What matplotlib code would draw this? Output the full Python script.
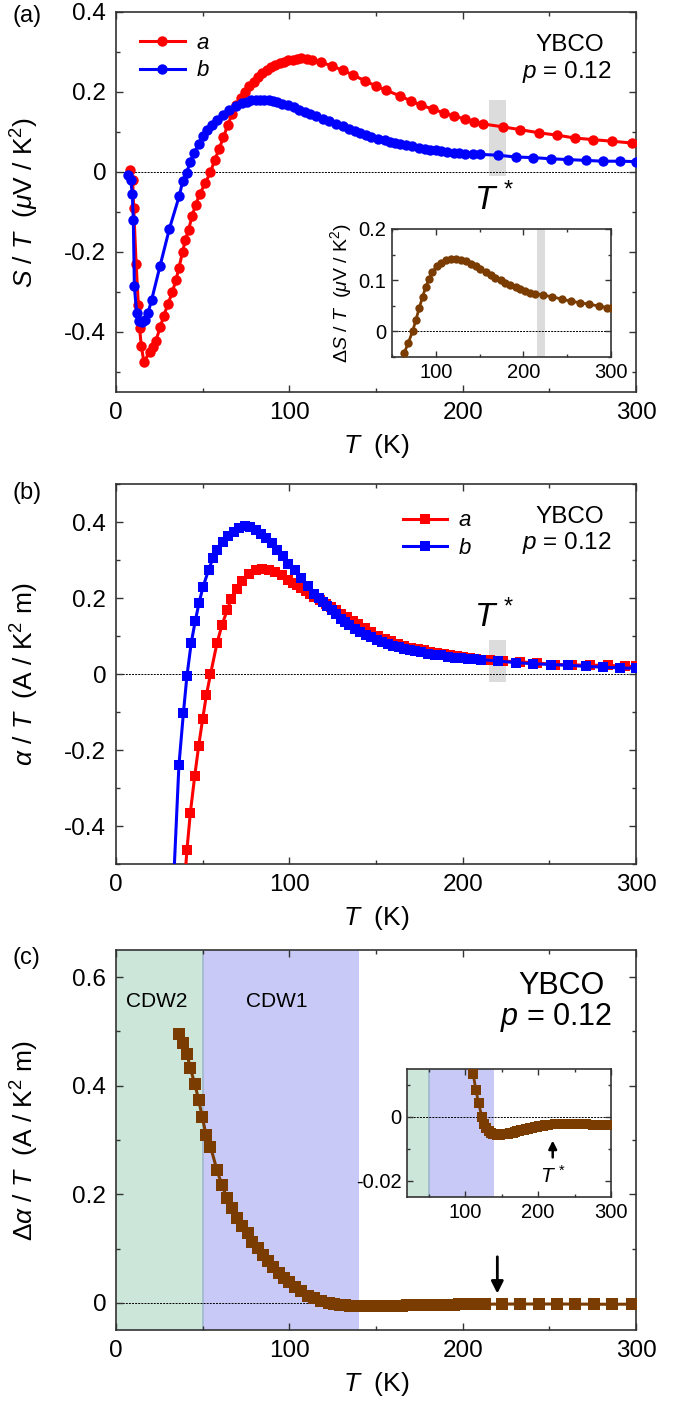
import numpy as np
import matplotlib.pyplot as plt
from matplotlib.ticker import MultipleLocator, FuncFormatter

plt.rcParams['font.family'] = ['Liberation Sans', 'DejaVu Sans']
plt.rcParams['mathtext.fontset'] = 'custom'
plt.rcParams['mathtext.rm'] = 'Liberation Sans'
plt.rcParams['mathtext.it'] = 'Liberation Sans:italic'
plt.rcParams['mathtext.bf'] = 'Liberation Sans:bold'
plt.rcParams['axes.unicode_minus'] = False

RED = '#ff0000'
BLUE = '#0000ff'
BROWN = '#7a3c00'
GREEN = '#cce6da'
LAV = '#c9c9f7'
BAND = '#dcdcdc'

# ---- panel (a): S/T ----
T_Sa = [8.1, 9.6, 10.2, 11.6, 12.9, 13.6, 14.6, 16.1, 19.4, 21.2, 23.0, 25.5, 27.5, 30.0, 32.5,
        34.6, 36.3, 38.4, 40.0, 41.9, 43.9, 45.9, 48.4, 51.5, 54.5, 57.0, 59.5, 62.0, 64.5, 67.0,
        69.5, 72.0, 74.5, 77.0, 79.5, 82.0, 84.5, 87.0, 89.5, 92.0, 94.5, 97.0, 99.5, 102.0, 104.5,
        107.0, 110.0, 113.0, 118.0, 124.6, 131.0, 137.0, 143.6, 150.0, 156.0, 164.0, 170.0, 176.0,
        183.0, 189.0, 195.0, 201.6, 206.7, 212.0, 223.0, 233.0, 244.0, 254.6, 264.7, 275.0, 286.0, 297.5]
S_a = [0.006, -0.021, -0.089, -0.229, -0.333, -0.39, -0.435, -0.475, -0.45, -0.437, -0.422, -0.388,
       -0.36, -0.33, -0.30, -0.27, -0.24, -0.20, -0.17, -0.144, -0.11, -0.083, -0.054, -0.028, 0.0,
       0.03, 0.058, 0.087, 0.118, 0.145, 0.167, 0.185, 0.2, 0.214, 0.226, 0.238, 0.248, 0.256, 0.263,
       0.268, 0.272, 0.276, 0.279, 0.281, 0.283, 0.284, 0.283, 0.281, 0.275, 0.265, 0.254, 0.242,
       0.228, 0.215, 0.204, 0.19, 0.178, 0.167, 0.157, 0.148, 0.14, 0.132, 0.126, 0.12, 0.113, 0.106,
       0.098, 0.092, 0.085, 0.081, 0.077, 0.0725]

T_Sb = [7.1, 8.5, 9.4, 10.0, 10.6, 11.9, 13.5, 15.2, 16.7, 18.5, 20.6, 25.4, 30.8, 36.5, 38.5, 40.8,
        42.7, 45.2, 47.7, 50.2, 52.7, 55.3, 58.3, 61.6, 65.3, 69.1, 72.9, 75.5, 78.0, 80.5, 83.0, 85.5,
        88.0, 90.5, 93.0, 96.0, 99.4, 102.5, 105.7, 109.0, 112.0, 115.5, 119.6, 123.0, 127.0, 131.0,
        134.7, 138.0, 141.0, 144.0, 147.3, 151.0, 155.0, 158.0, 161.0, 164.0, 167.5, 171.0, 175.0,
        178.0, 181.4, 184.5, 187.7, 191.0, 195.0, 198.0, 201.6, 206.0, 210.0, 220.5, 230.6, 240.7,
        251.0, 261.0, 271.0, 281.0, 291.0, 300.0]
S_b = [-0.008, -0.021, -0.054, -0.121, -0.286, -0.352, -0.372, -0.375, -0.37, -0.352, -0.319, -0.235,
       -0.142, -0.06, -0.0225, -0.002, 0.025, 0.0475, 0.071, 0.089, 0.104, 0.117, 0.129, 0.142, 0.154,
       0.164, 0.1725, 0.176, 0.179, 0.18, 0.181, 0.18, 0.179, 0.177, 0.175, 0.171, 0.167, 0.162, 0.156,
       0.151, 0.146, 0.14, 0.133, 0.127, 0.121, 0.114, 0.108, 0.103, 0.0975, 0.092, 0.0875, 0.083,
       0.079, 0.0755, 0.0725, 0.07, 0.067, 0.064, 0.061, 0.0585, 0.056, 0.054, 0.0525, 0.05, 0.048,
       0.047, 0.046, 0.045, 0.044, 0.042, 0.0375, 0.036, 0.033, 0.031, 0.029, 0.027, 0.027, 0.026]

# inset (a): delta S/T
T_dS = [64.0, 68.5, 73.5, 77.3, 81.0, 84.9, 88.6, 92.4, 96.2, 101.0, 105.7, 111.4, 117.0, 122.7, 128.4,
        134.0, 139.8, 145.5, 151.0, 157.0, 162.5, 168.0, 174.0, 179.5, 185.0, 191.0, 196.6, 202.0,
        208.0, 213.6, 222.4, 232.6, 244.0, 254.0, 264.8, 275.0, 286.0, 296.0, 300.0]
dS = [-0.042, -0.0225, 0.0, 0.0226, 0.045, 0.0677, 0.087, 0.103, 0.116, 0.127, 0.134, 0.139, 0.142,
      0.142, 0.14, 0.137, 0.1325, 0.127, 0.122, 0.116, 0.111, 0.105, 0.1, 0.095, 0.09, 0.086, 0.082,
      0.079, 0.0755, 0.074, 0.071, 0.0677, 0.063, 0.059, 0.056, 0.053, 0.0497, 0.0464, 0.045]

# ---- panel (b): alpha/T ----
T_Aa = [38.5, 40.9, 42.9, 45.4, 47.7, 50.0, 52.2, 54.5, 58.3, 61.1, 64.1, 66.6, 69.9, 72.9, 76.7, 80.5,
        84.3, 88.0, 91.8, 95.6, 99.4, 102.0, 104.5, 107.0, 109.5, 112.0, 114.5, 117.5, 120.9, 124.0,
        127.0, 130.0, 133.5, 136.5, 139.8, 143.5, 147.3, 151.0, 155.0, 158.5, 162.5, 166.0, 170.0,
        174.0, 177.6, 181.0, 185.0, 189.0, 192.8, 196.5, 200.3, 204.0, 207.9, 215.5, 223.0, 233.0,
        243.0, 253.0, 263.0, 273.5, 283.6, 293.7, 300.0]
A_a = [-0.62, -0.464, -0.365, -0.269, -0.189, -0.118, -0.054, -0.001, 0.082, 0.128, 0.168, 0.198,
       0.225, 0.246, 0.264, 0.273, 0.277, 0.275, 0.268, 0.26, 0.248, 0.24, 0.233, 0.226, 0.218, 0.21,
       0.203, 0.194, 0.185, 0.176, 0.168, 0.159, 0.15, 0.14, 0.131, 0.12, 0.11, 0.101, 0.093, 0.086,
       0.08, 0.074, 0.069, 0.065, 0.062, 0.058, 0.055, 0.052, 0.049, 0.047, 0.045, 0.042, 0.04,
       0.038, 0.034, 0.032, 0.029, 0.025, 0.024, 0.023, 0.023, 0.02, 0.02]

T_Ab = [32.5, 36.3, 38.9, 40.9, 43.4, 45.7, 47.9, 50.2, 53.5, 56.0, 58.5, 61.6, 64.6, 67.9, 71.2, 74.2,
        77.2, 80.5, 83.8, 86.8, 89.8, 93.1, 96.4, 99.4, 103.2, 107.0, 110.8, 114.5, 117.0, 119.6, 122.0,
        124.6, 127.0, 129.7, 132.0, 134.7, 138.0, 141.0, 144.0, 147.3, 150.5, 153.7, 157.0, 160.0,
        163.0, 166.3, 169.5, 172.6, 176.0, 180.0, 184.0, 187.7, 191.5, 195.3, 199.0, 203.0, 206.5,
        210.4, 220.5, 230.6, 240.7, 250.8, 261.0, 271.0, 281.0, 291.0, 300.0]
A_b = [-0.62, -0.24, -0.102, -0.006, 0.082, 0.139, 0.187, 0.229, 0.275, 0.306, 0.327, 0.347, 0.363,
       0.375, 0.384, 0.389, 0.387, 0.38, 0.369, 0.358, 0.345, 0.327, 0.31, 0.29, 0.273, 0.2535, 0.231,
       0.211, 0.2, 0.189, 0.178, 0.168, 0.157, 0.146, 0.137, 0.128, 0.119, 0.11, 0.103, 0.097, 0.09,
       0.084, 0.079, 0.075, 0.071, 0.067, 0.063, 0.06, 0.057, 0.0535, 0.051, 0.049, 0.046, 0.043,
       0.041, 0.04, 0.039, 0.038, 0.034, 0.03, 0.027, 0.025, 0.023, 0.02, 0.018, 0.016, 0.015]

# ---- panel (c): delta alpha/T ----
T_dA = [36.3, 38.9, 40.9, 42.9, 45.4, 47.7, 49.7, 52.0, 54.5, 58.3, 61.1, 64.1, 66.9, 69.9, 72.9, 75.9,
        78.7, 81.8, 84.8, 87.8, 90.8, 93.9, 96.9, 99.9, 103.2, 107.0, 110.8, 114.5, 118.3, 122.8, 126.0,
        129.0, 132.0, 135.0, 138.0, 141.0, 144.0, 147.0, 150.0, 153.0, 156.0, 159.0, 162.0, 165.0,
        168.0, 171.0, 174.0, 177.0, 180.0, 183.0, 186.0, 189.0, 192.0, 195.0, 198.0, 201.0, 204.0,
        207.0, 210.0, 213.0, 222.5, 233.0, 244.0, 254.5, 265.0, 275.5, 286.0, 297.5]
dA = [0.496, 0.478, 0.459, 0.432, 0.404, 0.374, 0.343, 0.309, 0.288, 0.244, 0.217, 0.193, 0.175,
      0.156, 0.141, 0.129, 0.113, 0.101, 0.089, 0.077, 0.066, 0.055, 0.046, 0.038, 0.03, 0.022,
      0.0135, 0.0085, 0.0043, 0.0, -0.0022, -0.0035, -0.0044, -0.0049, -0.0053, -0.0054, -0.0055,
      -0.0055, -0.0054, -0.0054, -0.0053, -0.0052, -0.0051, -0.0049, -0.0047, -0.0045, -0.0044,
      -0.0042, -0.004, -0.0038, -0.0036, -0.0035, -0.0033, -0.0032, -0.003, -0.0029, -0.0028,
      -0.0027, -0.0026, -0.0025, -0.0022, -0.0021, -0.0021, -0.0021, -0.0023, -0.0025, -0.0026,
      -0.0024]

W, H = 684, 1407


def box(x0, y0, x1, y1):
    return [x0 / W, 1 - y1 / H, (x1 - x0) / W, (y1 - y0) / H]


def fmt(v, pos):
    return '%g' % (round(v, 6) + 0)


def style(ax, xmaj, xmin, ymaj, ymin, fs, ml=5, ms=3, pad=7):
    ax.xaxis.set_major_locator(MultipleLocator(xmaj))
    ax.xaxis.set_minor_locator(MultipleLocator(xmin))
    ax.yaxis.set_major_locator(MultipleLocator(ymaj))
    ax.yaxis.set_minor_locator(MultipleLocator(ymin))
    ax.xaxis.set_major_formatter(FuncFormatter(fmt))
    ax.yaxis.set_major_formatter(FuncFormatter(fmt))
    ax.tick_params(which='both', direction='in', top=True, right=True, labelsize=fs,
                   color='#333333', width=1)
    ax.tick_params(which='major', length=ml, pad=pad)
    ax.tick_params(which='minor', length=ms)
    for s in ax.spines.values():
        s.set_linewidth(1.2)
        s.set_color('#333333')


def zero(ax):
    ax.axhline(0, color='k', ls=(0, (2, 1.2)), lw=0.7, zorder=1)


def labels(ax, ylab):
    ax.set_xlabel(r'$T$  (K)', fontsize=19, labelpad=6)
    ax.set_ylabel(ylab, fontsize=19)
    ax.yaxis.set_label_coords(-0.145, 0.5)


fig = plt.figure(figsize=(W / 100, H / 100), dpi=100)

# (a)
ax1 = fig.add_axes(box(116, 12, 636, 392))
ax1.fill_between([215, 225], -0.01, 0.18, color=BAND, lw=0, zorder=0)
zero(ax1)
ax1.plot(T_Sa, S_a, '-o', color=RED, lw=2.2, ms=7.5, mew=0, label='$a$', zorder=3)
ax1.plot(T_Sb, S_b, '-o', color=BLUE, lw=2.2, ms=7.5, mew=0, label='$b$', zorder=4)
ax1.set_xlim(0, 300)
ax1.set_ylim(-0.55, 0.4)
style(ax1, 100, 50, 0.2, 0.1, 17.5)
labels(ax1, r'$S\ /\ T\ \ (\mu\mathrm{V\ /\ K}^2)$')
ax1.legend(loc='upper left', bbox_to_anchor=(0.025, 0.975), frameon=False, fontsize=16,
           handlelength=2.0, handletextpad=0.5, borderpad=0, labelspacing=0.3)
ax1.text(262, 0.317, 'YBCO', fontsize=17.5, ha='center', va='center')
ax1.text(260, 0.249, r'$p$ = 0.12', fontsize=17.5, ha='center', va='center')
ax1.text(218, -0.07, r'$T^{\,*}$', fontsize=24, ha='center', va='center')
fig.text(12 / W, 1 - 16 / H, '(a)', fontsize=17, va='center')

ins1 = fig.add_axes(box(392, 229, 611, 357))
ins1.axvspan(215, 225, color=BAND, lw=0, zorder=0)
zero(ins1)
ins1.plot(T_dS, dS, '-o', color=BROWN, lw=2, ms=6, mew=0, zorder=3)
ins1.set_xlim(50, 300)
ins1.set_ylim(-0.05, 0.2)
style(ins1, 100, 50, 0.1, 0.05, 14.5, ml=4, ms=2.5, pad=4)
ins1.set_ylabel(r'$\Delta S\ /\ T\ \ (\mu\mathrm{V\ /\ K}^2)$', fontsize=14, labelpad=3)

# (b)
ax2 = fig.add_axes(box(116, 484, 636, 864))
ax2.fill_between([215, 225], -0.02, 0.09, color=BAND, lw=0, zorder=0)
zero(ax2)
ax2.plot(T_Aa, A_a, '-s', color=RED, lw=2.2, ms=7.5, mew=0, label='$a$', zorder=3)
ax2.plot(T_Ab, A_b, '-s', color=BLUE, lw=2.2, ms=7.5, mew=0, label='$b$', zorder=4)
ax2.set_xlim(0, 300)
ax2.set_ylim(-0.5, 0.5)
style(ax2, 100, 50, 0.2, 0.1, 17.5)
labels(ax2, r'$\alpha\ /\ T\ \ (\mathrm{A\ /\ K}^2\ \mathrm{m})$')
ax2.legend(loc='upper left', bbox_to_anchor=(0.53, 0.96), frameon=False, fontsize=16,
           handlelength=2.0, handletextpad=0.5, borderpad=0, labelspacing=0.3)
ax2.text(262, 0.414, 'YBCO', fontsize=17.5, ha='center', va='center')
ax2.text(260, 0.344, r'$p$ = 0.12', fontsize=17.5, ha='center', va='center')
ax2.text(218, 0.15, r'$T^{\,*}$', fontsize=24, ha='center', va='center')
fig.text(12 / W, 1 - 493 / H, '(b)', fontsize=17, va='center')

# (c)
ax3 = fig.add_axes(box(116, 950, 636, 1330))
ax3.axvspan(0, 50, color=GREEN, lw=0, zorder=0)
ax3.axvspan(50, 140, color=LAV, lw=0, zorder=0)
ax3.axvline(50, color='#9fb8cc', lw=1.2, zorder=0.5)
zero(ax3)
ax3.plot(T_dA, dA, '-s', color=BROWN, lw=2.2, ms=8, mew=0, zorder=3)
ax3.set_xlim(0, 300)
ax3.set_ylim(-0.05, 0.65)
style(ax3, 100, 50, 0.2, 0.1, 17.5)
labels(ax3, r'$\Delta\alpha\ /\ T\ \ (\mathrm{A\ /\ K}^2\ \mathrm{m})$')
ax3.text(23.3, 0.555, 'CDW2', fontsize=15, ha='center', va='center')
ax3.text(93, 0.555, 'CDW1', fontsize=15, ha='center', va='center')
ax3.text(257, 0.583, 'YBCO', fontsize=22, ha='center', va='center')
ax3.text(254, 0.525, r'$p$ = 0.12', fontsize=22, ha='center', va='center')
ax3.annotate('', xy=(220, 0.012), xytext=(220, 0.09),
             arrowprops=dict(arrowstyle='-|>', color='k', lw=2, mutation_scale=18))
fig.text(12 / W, 1 - 958 / H, '(c)', fontsize=17, va='center')

ins3 = fig.add_axes(box(407, 1069, 611, 1197))
ins3.axvspan(0, 50, color=GREEN, lw=0, zorder=0)
ins3.axvspan(50, 140, color=LAV, lw=0, zorder=0)
ins3.axvline(50, color='#9fb8cc', lw=1.2, zorder=0.5)
zero(ins3)
ins3.plot(T_dA, dA, '-s', color=BROWN, lw=2, ms=6.5, mew=0, zorder=3)
ins3.set_xlim(20, 300)
ins3.set_ylim(-0.025, 0.015)
style(ins3, 100, 50, 0.02, 0.01, 14.5, ml=4, ms=2.5, pad=4)
ins3.annotate('', xy=(220, -0.0065), xytext=(220, -0.0135),
              arrowprops=dict(arrowstyle='-|>', color='k', lw=1.8, mutation_scale=12))
ins3.text(220, -0.0185, r'$T^{\,*}$', fontsize=15, ha='center', va='center')

fig.savefig('out.png', dpi=100)
